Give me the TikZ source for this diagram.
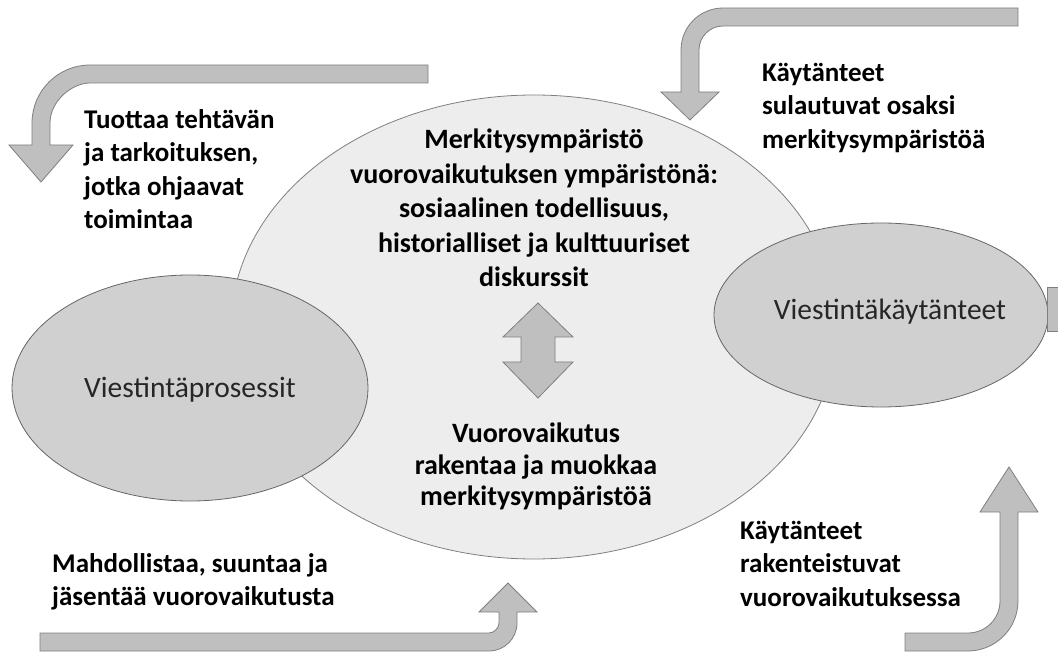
\documentclass[tikz,border=0pt]{standalone}
\usepackage{fontspec}
\setmainfont{Carlito}
\usetikzlibrary{shapes.geometric}
\definecolor{bigfill}{HTML}{EDEDED}
\definecolor{smallfill}{HTML}{D0D0D0}
\definecolor{arrfill}{HTML}{BFBFBF}
\definecolor{edgegray}{HTML}{7F7F7F}
\begin{document}
\begin{tikzpicture}[x=1pt,y=-1pt,
  bigell/.style={ellipse, draw=edgegray, fill=bigfill, line width=0.8pt, inner sep=0pt},
  smallell/.style={ellipse, draw=black!60, fill=smallfill, line width=0.8pt, inner sep=0pt},
  arrowshape/.style={draw=edgegray, fill=arrfill, line width=0.8pt, line join=miter},
  sidetext/.style={font=\bfseries\fontsize{27}{33.5}\selectfont, align=left, anchor=north west, inner sep=0pt},
  centertext/.style={font=\bfseries\fontsize{28}{34.5}\selectfont, align=center, anchor=north, inner sep=0pt},
  ellabel/.style={font=\fontsize{29.5}{34}\selectfont, text=black!85, inner sep=0pt}
]
\useasboundingbox (0,0) rectangle (1058,652);

% big ellipse
\node (big) [bigell, minimum width=606pt, minimum height=464pt] at (534,327) {};

% small ellipses
\node (left) [smallell, minimum width=356pt, minimum height=226pt] at (190,388) {};
\node (right) [smallell, minimum width=334pt, minimum height=184pt] at (881,315) {};
\node (leftlabel) [ellabel] at (190,390) {Viestintäprosessit};
\node (rightlabel) [ellabel] at (890,312) {Viestintäkäytänteet};

% right edge sliver
\fill[arrfill] (1047,287) rectangle (1058,331);
\draw[edgegray, line width=0.8pt] (1058,287) -- (1047,287) -- (1047,331) -- (1058,331);

% top-left bent arrow
\draw[arrowshape] (428,65) -- (90,65) .. controls (58,65) and (32,91) .. (32,123)
  -- (32,145) -- (9,145) -- (41,182) -- (73,145) -- (50,145) -- (50,123)
  .. controls (50,101) and (72,83) .. (90,83) -- (428,83) -- cycle;

% top-right bent arrow
\draw[arrowshape] (1018,8) -- (723,8) .. controls (699.8,8) and (681,26.8) .. (681,50)
  -- (681,92) -- (661,92) -- (690,120) -- (719,92) -- (699,92) -- (699,50)
  .. controls (699,36.8) and (709.8,26) .. (723,26) -- (1018,26) -- cycle;

% bottom-left bent arrow
\draw[arrowshape] (40,633) -- (489,633) .. controls (494.5,633) and (499,627.5) .. (499,623)
  -- (499,612) -- (479,612) -- (508,583) -- (537,612) -- (517,612) -- (517,623)
  .. controls (517,638.5) and (504.5,651) .. (489,651) -- (40,651) -- cycle;

% bottom-right bent arrow
\draw[arrowshape] (905,633) -- (968,633) .. controls (985.7,633) and (1000,618.7) .. (1000,601)
  -- (1000,512) -- (980,512) -- (1009,467) -- (1038,512) -- (1018,512) -- (1018,601)
  .. controls (1018,628.6) and (995.4,651) .. (968,651) -- (905,651) -- cycle;

% double arrow
\draw[arrowshape] (538,303) -- (573,337) -- (555,337) -- (555,362) -- (573,362)
  -- (538,398) -- (503,362) -- (521,362) -- (521,337) -- (503,337) -- cycle;

% texts
\node (toptext) [centertext] at (534,129) {Merkitysympäristö\\vuorovaikutuksen ympäristönä:\\sosiaalinen todellisuus,\\historialliset ja kulttuuriset\\diskurssit};
\node (bottomtext) [centertext, font=\bfseries\fontsize{28}{31.5}\selectfont] at (536,423) {Vuorovaikutus\\rakentaa ja muokkaa\\merkitysympäristöä};
\node (tltext) [sidetext] at (84,109) {Tuottaa tehtävän\\ja tarkoituksen,\\jotka ohjaavat\\toimintaa};
\node (trtext) [sidetext] at (762,63) {Käytänteet\\sulautuvat osaksi\\merkitysympäristöä};
\node (bltext) [sidetext] at (52,553) {Mahdollistaa, suuntaa ja\\jäsentää vuorovaikutusta};
\node (brtext) [sidetext] at (740,521) {Käytänteet\\rakenteistuvat\\vuorovaikutuksessa};
\end{tikzpicture}
\end{document}
